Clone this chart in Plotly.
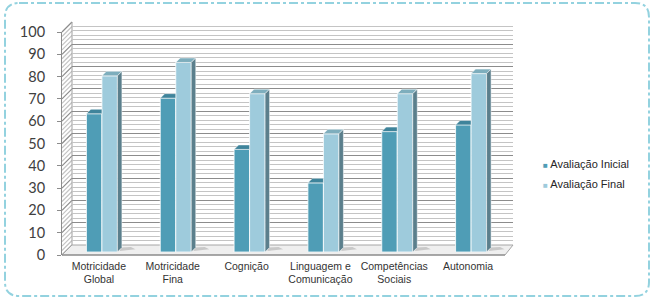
import plotly.graph_objects as go

# ---------------- data ----------------
categories = ["Motricidade<br>Global", "Motricidade<br>Fina", "Cognição",
              "Linguagem e<br>Comunicação", "Competências<br>Sociais", "Autonomia"]
inicial = [62, 69, 46, 31, 54, 57]
final = [79, 85, 71, 53, 71, 80]
series_names = ["Avaliação Inicial", "Avaliação Final"]
y_ticks = list(range(0, 101, 10))

# ---------------- geometry (pixels) ----------------
W, H = 654, 299
L, R, T, B = 62, 141, 22, 44
pw, ph = W - L - R, H - T - B
FRONT_X0, FRONT_X1 = 62, 505
FLOOR_Y, FRONT_TOP = 255, 32
BACK_X0, BACK_X1 = 72, 513
BACK_Y0, BACK_TOP = 245, 22
MID = 3  # bars sit slightly behind the front plane
DEPTH = 4.5  # bar depth in px

def px(x):
    return (x - L) / pw

def py(y):
    return (H - B - y) / ph

c_ini, c_fin = "#4f9db6", "#9ecbdc"
c_ini_top, c_fin_top = "#3f849b", "#7eaebd"
c_fin_side = "#5b7f8c"

idx = list(range(len(categories)))
bargap = 0.58
bw = (1 - bargap) / 2

fig = go.Figure()
# invisible trace so back-wall / front axes exist
fig.add_trace(go.Scatter(x=[0], y=[0], xaxis="x", yaxis="y", mode="markers",
                         marker=dict(opacity=0), showlegend=False, hoverinfo="skip"))
fig.add_trace(go.Scatter(x=[0], y=[0], xaxis="x2", yaxis="y2", mode="markers",
                         marker=dict(opacity=0), showlegend=False, hoverinfo="skip"))
for name, vals, col in [(series_names[0], inicial, c_ini), (series_names[1], final, c_fin)]:
    fig.add_trace(go.Bar(x=idx, y=vals, name=name, xaxis="x3", yaxis="y3",
                         marker=dict(color=col, line=dict(color="white", width=0.8)),
                         showlegend=False))

# ---------------- 3D faces of bars ----------------
ux = (len(categories)) / (FRONT_X1 - FRONT_X0)
uy = 100 / (FLOOR_Y - FRONT_TOP)
ddx, ddy = DEPTH * ux, DEPTH * uy
shapes = []
for i, (a, b) in enumerate(zip(inicial, final)):
    x0, x1, x2 = i - bw, i, i + bw
    shapes.append(dict(type="path", xref="x3", yref="y3", layer="above",
                       path=f"M {x0},{a} L {x1},{a} L {x1},{a+ddy} L {x0+ddx},{a+ddy} Z",
                       fillcolor=c_ini_top, line=dict(color="white", width=0.5)))
    shapes.append(dict(type="path", xref="x3", yref="y3", layer="above",
                       path=f"M {x1},{b} L {x2},{b} L {x2+ddx},{b+ddy} L {x1+ddx},{b+ddy} Z",
                       fillcolor=c_fin_top, line=dict(color="white", width=0.5)))
    shapes.append(dict(type="path", xref="x3", yref="y3", layer="above",
                       path=f"M {x2},0 L {x2},{b} L {x2+ddx},{b+ddy} L {x2+ddx},{ddy} Z",
                       fillcolor=c_fin_side, line=dict(color="white", width=0.5)))
    # soft floor shadow
    shapes.append(dict(type="path", xref="x3", yref="y3", layer="below",
                       path=(f"M {x2+ddx*0.5},{ddy*0.2} L {x2+ddx*4},{ddy*0.6} "
                             f"L {x2+ddx*3},{ddy*1.1} L {x2+ddx*0.8},{ddy*1.0} Z"),
                       fillcolor="#c8c8c8", line=dict(width=0)))

# ---------------- walls & floor ----------------
scale_f = (FLOOR_Y - FRONT_TOP) / 100
scale_b = (BACK_Y0 - BACK_TOP) / 100
for v in range(0, 101, 2):
    major = v % 10 == 0
    shapes.append(dict(type="line", xref="paper", yref="paper", layer="below",
                       x0=px(FRONT_X0), y0=py(FLOOR_Y - v * scale_f),
                       x1=px(BACK_X0), y1=py(BACK_Y0 - v * scale_b),
                       line=dict(color="#8c8c8c" if major else "#c4c4c4", width=1.2)))
shapes.append(dict(type="path", xref="paper", yref="paper", layer="below",
                   path=(f"M {px(FRONT_X0)},{py(FLOOR_Y)} L {px(FRONT_X1)},{py(FLOOR_Y)} "
                         f"L {px(BACK_X1)},{py(BACK_Y0)} L {px(BACK_X0)},{py(BACK_Y0)} Z"),
                   fillcolor="#efefef", line=dict(color="#a6a6a6", width=1)))
shapes.append(dict(type="line", xref="paper", yref="paper", layer="below",
                   x0=px(FRONT_X0), y0=py(FLOOR_Y), x1=px(FRONT_X1), y1=py(FLOOR_Y),
                   line=dict(color="#7f7f7f", width=1.2)))
shapes.append(dict(type="line", xref="paper", yref="paper", layer="below",
                   x0=px(BACK_X0), y0=py(BACK_Y0), x1=px(BACK_X0), y1=py(BACK_TOP),
                   line=dict(color="#a0a0a0", width=1)))

# ---------------- decorative frame ----------------
fx0, fx1, fy0, fy1, rr = 5, 649, 3, 296, 14
frame = (f"M {px(fx0+rr)},{py(fy0)} L {px(fx1-rr)},{py(fy0)} "
         f"Q {px(fx1)},{py(fy0)} {px(fx1)},{py(fy0+rr)} "
         f"L {px(fx1)},{py(fy1-rr)} Q {px(fx1)},{py(fy1)} {px(fx1-rr)},{py(fy1)} "
         f"L {px(fx0+rr)},{py(fy1)} Q {px(fx0)},{py(fy1)} {px(fx0)},{py(fy1-rr)} "
         f"L {px(fx0)},{py(fy0+rr)} Q {px(fx0)},{py(fy0)} {px(fx0+rr)},{py(fy0)} Z")
shapes.append(dict(type="path", xref="paper", yref="paper", layer="below", path=frame,
                   line=dict(color="#93d2df", width=2, dash="dashdot")))

# ---------------- legend (as text) ----------------
annotations = []
for k, (name, col) in enumerate(zip(series_names, [c_ini, c_fin])):
    annotations.append(dict(xref="paper", yref="paper", x=px(541), y=py(164 + 20 * k),
                            xanchor="left", yanchor="middle", showarrow=False,
                            text=f"<span style='color:{col};font-size:8px'>■</span> {name}",
                            font=dict(family="Liberation Sans, Arial", size=11, color="#262626")))

fig.update_layout(
    width=W, height=H,
    margin=dict(l=L, r=R, t=T, b=B),
    paper_bgcolor="white", plot_bgcolor="rgba(0,0,0,0)",
    barmode="group", bargap=bargap, bargroupgap=0,
    showlegend=False,
    shapes=shapes, annotations=annotations,
    xaxis=dict(domain=[px(BACK_X0), px(BACK_X1)], range=[-0.5, 5.5],
               showgrid=False, showticklabels=False, zeroline=False),
    yaxis=dict(domain=[py(BACK_Y0), py(BACK_TOP)], range=[0, 100], dtick=10,
               showgrid=True, gridcolor="#8c8c8c", gridwidth=1.3,
               minor=dict(dtick=2, showgrid=True, gridcolor="#c4c4c4", gridwidth=1.2),
               showticklabels=False, zeroline=False),
    xaxis2=dict(domain=[px(FRONT_X0), px(FRONT_X1)], range=[-0.5, 5.5], anchor="y2",
                tickvals=idx, ticktext=categories, showgrid=False, zeroline=False,
                showline=False, ticks="", ticklabelstandoff=3,
                tickfont=dict(family="Liberation Sans, Arial", size=10.5, color="#333333")),
    yaxis2=dict(domain=[py(FLOOR_Y), py(FRONT_TOP)], range=[0, 100], anchor="x2",
                tickvals=y_ticks, showgrid=False, zeroline=False,
                showline=True, linecolor="#8c8c8c", linewidth=1,
                ticks="outside", ticklen=4, tickcolor="#8c8c8c", ticklabelstandoff=9,
                tickfont=dict(family="Lato, Liberation Sans", size=14.5, color="#404040")),
    xaxis3=dict(domain=[px(FRONT_X0 + MID), px(FRONT_X1 + MID)], range=[-0.5, 5.5],
                anchor="y3", showgrid=False, showticklabels=False, zeroline=False),
    yaxis3=dict(domain=[py(FLOOR_Y - MID), py(FRONT_TOP - MID)], range=[0, 100],
                anchor="x3", showgrid=False, showticklabels=False, zeroline=False),
)

fig.write_html("out.html")
